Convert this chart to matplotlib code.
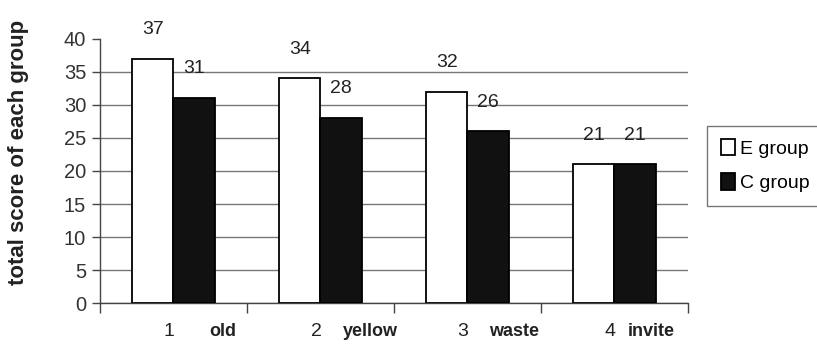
import numpy as np
import matplotlib.pyplot as plt

plt.rcParams['font.family'] = ['Liberation Sans', 'DejaVu Sans']

# Scores per word for each group
numbers = ['1', '2', '3', '4']
words = ['old', 'yellow', 'waste', 'invite']
e_group = [37, 34, 32, 21]
c_group = [31, 28, 26, 21]
y_ticks = [0, 5, 10, 15, 20, 25, 30, 35, 40]

fig = plt.figure(figsize=(8.17, 3.5), dpi=100)
ax = fig.add_axes([0.1224, 0.134, 0.7196, 0.755])

x = np.arange(len(words))
w = 0.28
bars_e = ax.bar(x - w / 2, e_group, w, color='white', edgecolor='black', linewidth=1.3,
                label='E group', zorder=3)
bars_c = ax.bar(x + w / 2, c_group, w, color='#111111', edgecolor='black', linewidth=1.3,
                label='C group', zorder=3)

# value labels above each bar
for bars, vals in ((bars_e, e_group), (bars_c, c_group)):
    for b, v in zip(bars, vals):
        ax.annotate(str(v), (b.get_x() + b.get_width() / 2, v), xytext=(0, 15),
                    textcoords='offset points', ha='center', va='bottom',
                    fontsize=14, color='#222222', zorder=4)

ax.set_xlim(-0.5, len(words) - 0.5)
ax.set_ylim(0, 40)
ax.set_yticks(y_ticks)
ax.set_yticklabels([str(t) for t in y_ticks], fontsize=14.5, color='#333333')
ax.yaxis.grid(True, color='#777777', linewidth=1, zorder=0)
ax.set_axisbelow(True)
# no grid line along the top of the value axis
ax.get_ygridlines()[-1].set_visible(False)

# category boundaries carry the x ticks, labels are placed between them
ax.set_xticks(np.arange(len(words) + 1) - 0.5)
ax.set_xticklabels([])
ax.tick_params(axis='x', direction='out', length=7, width=1, color='#444444')
ax.tick_params(axis='y', direction='out', length=6, width=1, color='#444444', pad=4)

word_offsets = [0.24, 0.15, 0.15, 0.09]
for i, (n, wd) in enumerate(zip(numbers, words)):
    ax.text(i - 0.03, -3.0, n, ha='center', va='top', fontsize=14, color='#222222')
    ax.text(i + word_offsets[i], -3.0, wd, ha='left', va='top', fontsize=13,
            fontweight='bold', color='#222222')

for s in ('top', 'right'):
    ax.spines[s].set_visible(False)
for s in ('left', 'bottom'):
    ax.spines[s].set_color('#444444')
    ax.spines[s].set_linewidth(1)

ax.set_ylabel('total score of each group', fontsize=16, fontweight='bold',
              color='#222222')
ax.yaxis.set_label_coords(-0.12, 0.57)

leg = ax.legend(loc='center left', bbox_to_anchor=(1.02, 0.52), frameon=True,
                fancybox=False, edgecolor='#555555', fontsize=14,
                handlelength=0.7, handleheight=0.9, handletextpad=0.25,
                borderpad=0.7, labelspacing=0.8, borderaxespad=0.4)
leg.get_frame().set_linewidth(1)

fig.savefig('out.png', dpi=100, facecolor='white')
